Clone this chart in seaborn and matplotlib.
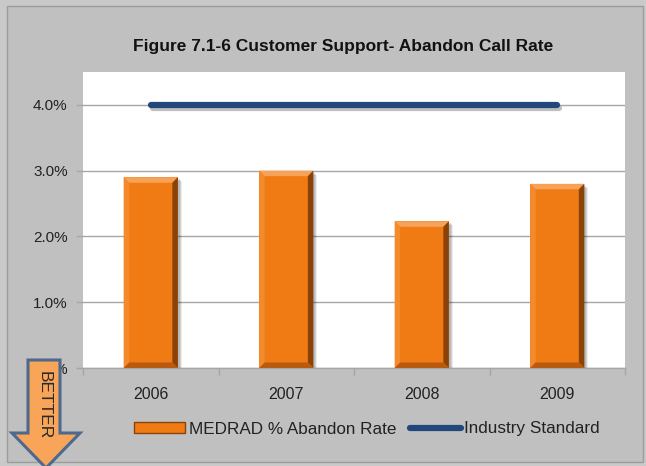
import numpy as np
import pandas as pd
import matplotlib
matplotlib.use("Agg")
import matplotlib.pyplot as plt
import matplotlib.patheffects as pe
from matplotlib.patches import Polygon, Rectangle, Patch
from matplotlib.lines import Line2D
from matplotlib.ticker import FuncFormatter, FixedLocator
import seaborn as sns

# Chart data
years = ["2006", "2007", "2008", "2009"]
abandon_rate = [2.9, 3.0, 2.23, 2.8]        # MEDRAD % abandon rate
industry_standard = [4.0, 4.0, 4.0, 4.0]    # industry standard
y_ticks = [0.0, 1.0, 2.0, 3.0, 4.0]

title = "Figure 7.1-6 Customer Support- Abandon Call Rate"
bar_label = "MEDRAD % Abandon Rate"
line_label = "Industry Standard"

BG = "#c0c0c0"
OUTER = "#c9c9c9"
ORANGE = "#f07a14"
ORANGE_LIGHT = "#f6a258"
ORANGE_DARK = "#8a4208"
ORANGE_MID = "#b85a10"
NAVY = "#22477a"
GRID = "#a6a6a6"

sns.set_theme(style="white")
plt.rcParams["font.family"] = ["Liberation Sans", "DejaVu Sans"]

fig = plt.figure(figsize=(6.46, 4.66), dpi=100, facecolor=OUTER)
W, H = 646, 466


def fx(x):
    return x / W


def fy(y):
    return 1 - y / H


# chart frame, kept behind the axes
fig.patches.append(Rectangle((fx(7), fy(462)), fx(643) - fx(7), fy(6) - fy(462),
                             transform=fig.transFigure, facecolor=BG,
                             edgecolor="#9c9c9c", linewidth=1.0, zorder=-10))

ax = fig.add_axes([fx(83), fy(368), fx(625) - fx(83), fy(72) - fy(368)])
ax.set_facecolor("white")

df = pd.DataFrame({"year": years, "rate": abandon_rate})
sns.barplot(data=df, x="year", y="rate", color=ORANGE, width=0.4,
            saturation=1, ax=ax, zorder=3, edgecolor="none")

ax.set_xlim(-0.5, len(years) - 0.5)
ax.set_ylim(0, 4.5)

# bevelled look on each bar
fig.canvas.draw()
to_px = ax.transData
from_px = ax.transData.inverted()
for bar in ax.patches[:len(years)]:
    x0, y0 = bar.get_x(), bar.get_y()
    x1, y1 = x0 + bar.get_width(), y0 + bar.get_height()
    (px0, py0), (px1, py1) = to_px.transform([(x0, y0), (x1, y1)])
    b = 5.5  # bevel size in pixels

    def P(pts):
        return from_px.transform(pts)

    # soft shadow
    for k, a in [(4, 0.08), (3, 0.10), (2, 0.12)]:
        ax.add_patch(Polygon(P([(px0 + k, py0 - k * 0.3), (px1 + k, py0 - k * 0.3),
                                (px1 + k, py1 - k), (px0 + k, py1 - k)]),
                             closed=True, facecolor="black", alpha=a,
                             edgecolor="none", zorder=2))
    ax.add_patch(Polygon(P([(px0, py1), (px1, py1), (px1 - b, py1 - b), (px0 + b, py1 - b)]),
                         facecolor=ORANGE_LIGHT, edgecolor="none", zorder=4))
    ax.add_patch(Polygon(P([(px0, py0), (px0 + b, py0 + b), (px0 + b, py1 - b), (px0, py1)]),
                         facecolor="#f38a2c", edgecolor="none", zorder=4))
    ax.add_patch(Polygon(P([(px1, py0), (px1, py1), (px1 - b, py1 - b), (px1 - b, py0 + b)]),
                         facecolor=ORANGE_DARK, edgecolor="none", zorder=4))
    ax.add_patch(Polygon(P([(px0, py0), (px1, py0), (px1 - b, py0 + b), (px0 + b, py0 + b)]),
                         facecolor=ORANGE_MID, edgecolor="none", zorder=4))

# industry standard line
ax.plot(np.arange(len(years)), industry_standard, color=NAVY, lw=4.5,
        solid_capstyle="round", zorder=5,
        path_effects=[pe.SimpleLineShadow(offset=(1.5, -2.5), shadow_color="gray", alpha=0.5),
                      pe.Normal()])

# axes styling
ax.yaxis.set_major_locator(FixedLocator(y_ticks))
ax.yaxis.set_major_formatter(FuncFormatter(lambda v, p: f"{v:.1f}%"))
ax.grid(axis="y", color=GRID, lw=1.0, zorder=0)
ax.set_axisbelow(True)
for s in ["top", "right", "left"]:
    ax.spines[s].set_visible(False)
ax.spines["bottom"].set_color(GRID)
ax.spines["bottom"].set_linewidth(1.0)
ax.tick_params(axis="y", length=5, color=GRID, width=1.0, labelsize=11,
               labelcolor="#222222", pad=6, left=True)
ax.tick_params(axis="x", which="major", length=0, labelsize=11.5,
               labelcolor="#222222", pad=14)
ax.set_xticks(np.arange(-0.5, len(years)), minor=True)
ax.tick_params(axis="x", which="minor", length=5, color=GRID, width=1.0, bottom=True)
ax.set_xlabel("")
ax.set_ylabel("")

fig.text(fx(343), fy(47), title, ha="center", va="center",
         fontsize=12.5, fontweight="bold", color="#111111")

# legend
handles = [Patch(facecolor=ORANGE, edgecolor=ORANGE_DARK, linewidth=1.0),
           Line2D([0], [0], color=NAVY, lw=4.5, solid_capstyle="round")]
leg = fig.legend(handles, [bar_label, line_label], loc="center",
                 bbox_to_anchor=(fx(367), fy(429)), ncol=2, frameon=False,
                 fontsize=12.3, handlelength=3.0, handleheight=0.6,
                 handletextpad=0.2, columnspacing=0.8)
for t in leg.get_texts():
    t.set_color("#222222")

# "BETTER" arrow at the lower left
arrow_pts = [(28, 360), (60, 360), (60, 433), (80, 433), (46, 468),
             (12, 433), (28, 433)]
fig.patches.append(Polygon([(fx(x), fy(y)) for x, y in arrow_pts], closed=True,
                           transform=fig.transFigure, facecolor="#f8a55a",
                           edgecolor="#4d6a8e", linewidth=2.2, zorder=10))
fig.text(fx(44), fy(405), "BETTER", rotation=-90, ha="center", va="center",
         fontsize=12.5, color="#2a2a2a", zorder=11)

fig.savefig("out.png", dpi=100, facecolor=OUTER)
